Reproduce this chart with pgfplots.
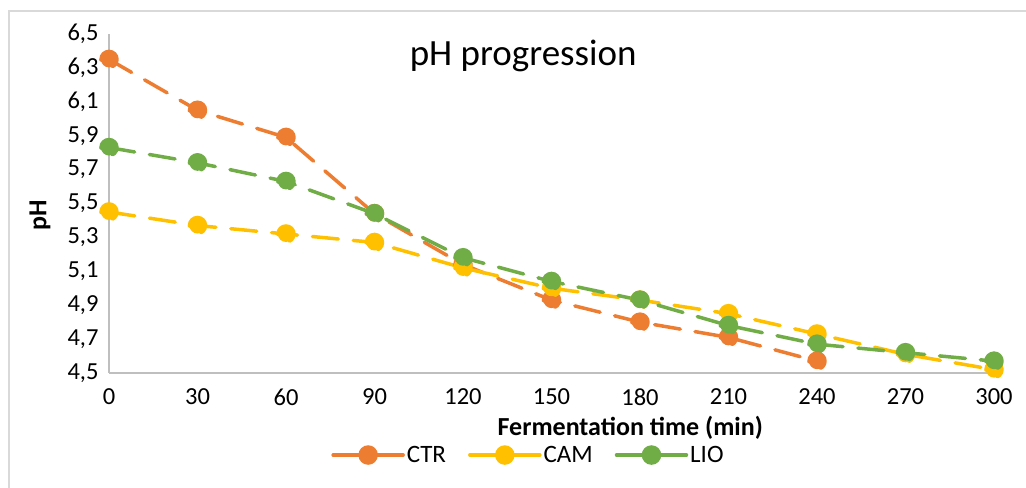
\documentclass[border=0pt]{standalone}
\usepackage{fontspec}
\setmainfont{Carlito}
\usepackage{pgfplots}
\pgfplotsset{compat=1.18}
\definecolor{ctr}{HTML}{ED7D31}
\definecolor{cam}{HTML}{FFC000}
\definecolor{lio}{HTML}{70AD47}
\definecolor{axgray}{HTML}{BFBFBF}
\definecolor{bordergray}{HTML}{D9D9D9}
\begin{document}
\begin{tikzpicture}[x=1bp,y=1bp]
\useasboundingbox (0,0) rectangle (1026,488);
\draw[bordergray, line width=1.5bp] (9,-5) -- (9,477) -- (1030,477);
\begin{axis}[
  at={(109bp,115bp)}, anchor=south west,
  scale only axis, width=885bp, height=339bp,
  xmin=0, xmax=300, ymin=4.5, ymax=6.5,
  axis lines=left,
  axis line style={-, draw=axgray, line width=1.5bp},
  xtick={0,30,60,90,120,150,180,210,240,270,300},
  ytick={4.5,4.7,4.9,5.1,5.3,5.5,5.7,5.9,6.1,6.3,6.5},
  major tick length=0pt,
  tick label style={font=\fontsize{24.5bp}{29bp}\selectfont, text=black},
  /pgf/number format/assume math mode=true,
  yticklabel style={xshift=-7bp, /pgf/number format/.cd, use comma, fixed, fixed zerofill, precision=1},
  xticklabel style={yshift=-12bp, /pgf/number format/.cd, fixed, precision=0},
  title={pH progression},
  title style={at={(axis description cs:0.468,0.918)}, anchor=center, font=\fontsize{37bp}{43bp}\selectfont},
  xlabel={Fermentation time (min)},
  xlabel style={at={(axis description cs:0.589,0)}, anchor=center, yshift=-55bp, font=\bfseries\fontsize{26bp}{30bp}\selectfont},
  ylabel={pH},
  ylabel style={at={(axis description cs:-0.078,0.466)}, anchor=center, font=\bfseries\fontsize{26bp}{30bp}\selectfont},
  legend columns=3,
  legend style={at={(axis description cs:0.474,-0.242)}, anchor=center, draw=none, fill=none,
    font=\fontsize{25bp}{29bp}\selectfont,
    /tikz/every even column/.append style={column sep=20bp}},
  legend image code/.code={
    \draw[#1, solid] (0bp,0bp) -- (70bp,0bp);
    \draw[#1, solid] plot[mark=*] coordinates {(35bp,0bp)};
  },
  every axis plot/.append style={line width=3.5bp, line cap=round, dash pattern=on 26bp off 15bp, mark=*, mark size=8bp, mark options={solid}},
]
\addplot[color=ctr, mark options={fill=ctr}] coordinates {
(0,6.35) (30,6.05) (60,5.89) (90,5.44) (120,5.14) (150,4.93) (180,4.80) (210,4.71) (240,4.57)
};
\addlegendentry{CTR}
\addplot[color=cam, mark options={fill=cam}] coordinates {
(0,5.45) (30,5.37) (60,5.32) (90,5.27) (120,5.12) (150,5.00) (180,4.93) (210,4.85) (240,4.73) (270,4.61) (300,4.52)
};
\addlegendentry{CAM}
\addplot[color=lio, mark options={fill=lio}] coordinates {
(0,5.83) (30,5.74) (60,5.63) (90,5.44) (120,5.18) (150,5.04) (180,4.93) (210,4.78) (240,4.67) (270,4.62) (300,4.57)
};
\addlegendentry{LIO}
\end{axis}
\end{tikzpicture}
\end{document}
